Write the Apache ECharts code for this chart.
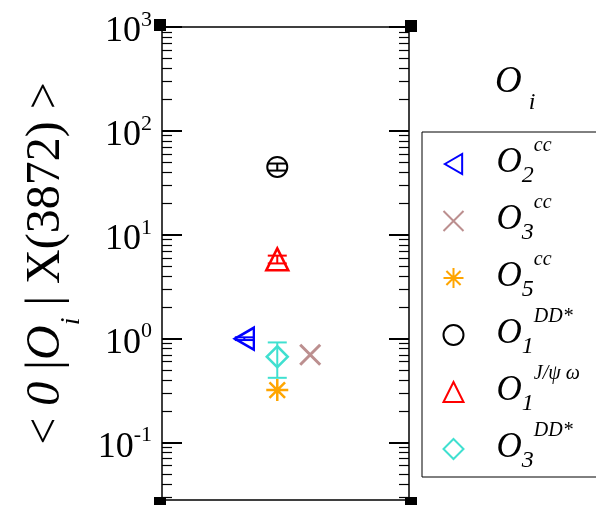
<!DOCTYPE html>
<html><head><meta charset="utf-8">
<script src="https://cdn.jsdelivr.net/npm/echarts@6/dist/echarts.min.js"></script>
<style>html,body{margin:0;padding:0;background:#fff}#c{width:596px;height:505px}</style>
</head><body><div id="c"></div>
<script>
// ---- data ----
const seriesNames = ['O2cc', 'O3cc', 'O5cc', 'O1DD', 'O1Jpsi', 'O3DD'];
const legendSub = ['2', '3', '5', '1', '1', '3'];
const legendSup = ['cc', 'cc', 'cc', 'DD*', 'J/ψ ω', 'DD*'];
const xPos = [2.5, 4.5, 3.5, 3.5, 3.5, 3.5];
const yVal = [1.0, 0.70, 0.32, 45, 5.8, 0.67];
const yErr = [0.03, 0, 0, 3.5, 0.5, 0.25];
const colors = ['#0000ff', '#bc8f8f', '#ffa500', '#000000', '#ff0000', '#40e0d0'];
const majorTicks = [0.1, 1, 10, 100, 1000];
const minorTicks = [0.03, 0.04, 0.05, 0.06, 0.07, 0.08, 0.09,
  0.2, 0.3, 0.4, 0.5, 0.6, 0.7, 0.8, 0.9,
  2, 3, 4, 5, 6, 7, 8, 9,
  20, 30, 40, 50, 60, 70, 80, 90,
  200, 300, 400, 500, 600, 700, 800, 900];
const yMin = 0.028, yMax = 1000, xMin = 0, xMax = 7.5;
const cornerPts = [[xMin, yMax], [xMax, yMax], [xMin, yMin], [xMax, yMin]];

// ---- styles ----
const FONT = 'Liberation Serif';
const symbols = [
  {symbol: 'path://M0,5L8.66,0L8.66,10Z', size: [19, 22], lw: 2.5},
  {symbol: 'path://M0,0L10,10M10,0L0,10', size: 20, lw: 3},
  {symbol: 'path://M5,0L5,10M0,5L10,5M1.46,1.46L8.54,8.54M8.54,1.46L1.46,8.54', size: 22, lw: 2.5},
  {symbol: 'circle', size: 20, lw: 2},
  {symbol: 'triangle', size: 22, lw: 2.5},
  {symbol: 'diamond', size: 21, lw: 2.5}
];

const chart = echarts.init(document.getElementById('c'));

const scatterSeries = seriesNames.map((n, i) => ({
  name: n,
  type: 'scatter',
  xAxisIndex: 0, yAxisIndex: 0,
  symbol: symbols[i].symbol,
  symbolSize: symbols[i].size,
  itemStyle: {color: 'none', borderColor: colors[i], borderWidth: symbols[i].lw, opacity: 1},
  data: [[xPos[i], yVal[i]]],
  z: 5
}));

const errData = [];
seriesNames.forEach((n, i) => {
  if (yErr[i] > 0) errData.push([xPos[i], yVal[i] - yErr[i], yVal[i] + yErr[i], i]);
});

const errSeries = {
  name: 'err', type: 'custom', xAxisIndex: 0, yAxisIndex: 0,
  data: errData,
  encode: {x: 0, y: [1, 2]},
  z: 6,
  renderItem: (params, api) => {
    const x = api.value(0), lo = api.value(1), hi = api.value(2);
    const c = colors[api.value(3)];
    const p1 = api.coord([x, hi]), p2 = api.coord([x, lo]);
    const w = 9.5;
    const st = {stroke: c, lineWidth: 2};
    return {type: 'group', children: [
      {type: 'line', shape: {x1: p1[0], y1: p1[1], x2: p2[0], y2: p2[1]}, style: st},
      {type: 'line', shape: {x1: p1[0] - w, y1: p1[1], x2: p1[0] + w, y2: p1[1]}, style: st},
      {type: 'line', shape: {x1: p2[0] - w, y1: p2[1], x2: p2[0] + w, y2: p2[1]}, style: st}
    ]};
  }
};

const cornerSeries = {
  name: 'corners', type: 'scatter', xAxisIndex: 0, yAxisIndex: 0,
  symbol: 'rect', symbolSize: 12, clip: false, silent: true,
  itemStyle: {color: '#000', opacity: 1},
  data: cornerPts.map((p, k) => ({value: p, symbolOffset: [[-2, -2], [2, -1], [-2, 3], [2, 3]][k]})),
  z: 10
};

const baseY = {
  type: 'log', logBase: 10, min: yMin, max: yMax, gridIndex: 0,
  axisLine: {show: false}, splitLine: {show: false}, axisLabel: {show: false}
};

const legendRich = {
  o: {fontFamily: FONT, fontStyle: 'italic', fontSize: 35, color: '#000', lineHeight: 56, verticalAlign: 'top', padding: [9.5, 0, 0, 28]},
  sub: {fontFamily: FONT, fontStyle: 'italic', fontSize: 24, color: '#000', lineHeight: 56, verticalAlign: 'top', padding: [28, 0, 0, 0]},
  sup: {fontFamily: FONT, fontStyle: 'italic', fontSize: 20, color: '#000', lineHeight: 56, verticalAlign: 'top', padding: [0, 0, 0, 0]}
};

const option = {
  animation: false,
  backgroundColor: '#fff',
  title: {
    text: '{o|O}{s|i}',
    left: 490, top: 55,
    textStyle: {
      fontWeight: 'normal',
      rich: {
        o: {fontFamily: FONT, fontStyle: 'italic', fontWeight: 'normal', fontSize: 37, color: '#000', lineHeight: 56, verticalAlign: 'top', padding: [3.5, 0, 0, 0]},
        s: {fontFamily: FONT, fontStyle: 'italic', fontWeight: 'normal', fontSize: 24, color: '#000', lineHeight: 56, verticalAlign: 'top', padding: [31, 0, 0, 7]}
      }
    }
  },
  legend: {
    orient: 'vertical',
    left: 422, top: 132,
    padding: [4, 150, 4, 19],
    itemGap: 5,
    itemWidth: 20, itemHeight: 20,
    borderColor: '#000', borderWidth: 1,
    selectedMode: false,
    data: seriesNames.map((n, i) => ({
      name: n,
      icon: symbols[i].symbol,
      itemStyle: {color: 'none', borderColor: colors[i], borderWidth: 2, opacity: 1}
    })),
    formatter: name => {
      const i = seriesNames.indexOf(name);
      return '{o|O}{sub|' + legendSub[i] + '}{sup|' + legendSup[i] + '}';
    },
    textStyle: {rich: legendRich}
  },
  grid: {left: 162, right: 187, top: 27, bottom: 5, show: true, borderColor: '#000', borderWidth: 1.5, outerBoundsMode: 'none'},
  xAxis: [{
    type: 'value', min: xMin, max: xMax, gridIndex: 0,
    axisLine: {show: false}, axisTick: {show: false}, axisLabel: {show: false}, splitLine: {show: false}
  }],
  yAxis: [
    Object.assign({}, baseY, {
      position: 'left',
      axisTick: {show: true, inside: true, length: 20, customValues: majorTicks, lineStyle: {color: '#000', width: 2}},
      axisLabel: {
        show: true, margin: 10, customValues: majorTicks,
        formatter: v => '{b|10}{e|' + Math.round(Math.log10(v)) + '}',
        rich: {
          b: {fontFamily: FONT, fontSize: 36, color: '#000', lineHeight: 48, verticalAlign: 'top', padding: [10.5, 0, 0, 0]},
          e: {fontFamily: FONT, fontSize: 22, color: '#000', lineHeight: 48, verticalAlign: 'top', padding: [6, 0, 0, 0]}
        }
      },
      name: '{n|< }{it|0}{n| |}{it|O}{sub|i}{n| | X(3872) >}',
      nameLocation: 'middle', nameRotate: 90, nameGap: 76,
      nameTextStyle: {
        rich: {
          n: {fontFamily: FONT, fontSize: 48, color: '#000', lineHeight: 66, verticalAlign: 'top', padding: [2, 0, 0, 0]},
          it: {fontFamily: FONT, fontStyle: 'italic', fontSize: 48, color: '#000', lineHeight: 66, verticalAlign: 'top', padding: [2, 0, 0, 0]},
          sub: {fontFamily: FONT, fontStyle: 'italic', fontSize: 28, color: '#000', lineHeight: 66, verticalAlign: 'top', padding: [37.5, 0, 0, 0]}
        }
      }
    }),
    Object.assign({}, baseY, {
      position: 'left',
      axisTick: {show: true, inside: true, length: 10, customValues: minorTicks, lineStyle: {color: '#000', width: 1.2}}
    }),
    Object.assign({}, baseY, {
      position: 'right',
      axisTick: {show: true, inside: true, length: 20, customValues: majorTicks, lineStyle: {color: '#000', width: 2}}
    }),
    Object.assign({}, baseY, {
      position: 'right',
      axisTick: {show: true, inside: true, length: 10, customValues: minorTicks, lineStyle: {color: '#000', width: 1.2}}
    })
  ],
  series: scatterSeries.concat([errSeries, cornerSeries])
};
chart.setOption(option);
</script></body></html>
